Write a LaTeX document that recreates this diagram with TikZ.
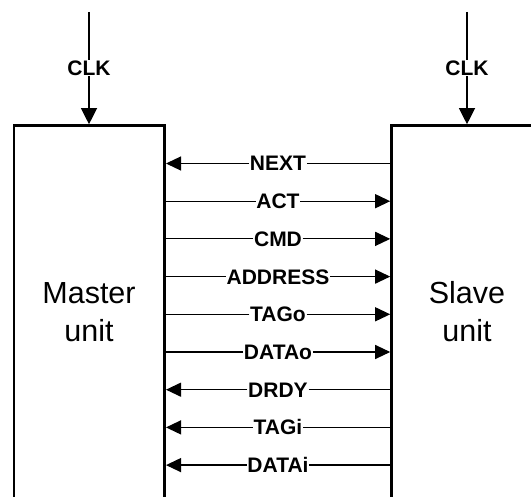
\documentclass[tikz,border=0pt]{standalone}
\usepackage{fontspec}
\setmainfont{Liberation Sans}
\usetikzlibrary{arrows.meta}
\begin{document}
\begin{tikzpicture}[x=1pt,y=-1pt,
  box/.style={line width=2.7pt},
  sig/.style={line width=1.2pt},
  tip/.style={-{Triangle[length=15pt,width=14pt]}},
  clktip/.style={-{Triangle[length=16pt,width=16pt]}},
  plain/.style={},
  lab/.style={font=\fontsize{21}{22}\selectfont\bfseries, inner sep=0.6pt, text height=15pt, text depth=0pt},
  unit/.style={font=\fontsize{30.5}{38}\selectfont, align=center}]
\useasboundingbox (0,0) rectangle (531,497);
\clip (0,0) rectangle (531,497);
% unit boxes (open at the bottom)
\coordinate (mBL) at (14,510);
\coordinate (mTL) at (14,125.5);
\coordinate (mTR) at (164.7,125.5);
\coordinate (mBR) at (164.7,510);
\coordinate (sBL) at (391.5,510);
\coordinate (sTL) at (391.5,125.5);
\coordinate (sTR) at (545,125.5);
\draw[box] (mBL) -- (mTL) -- (mTR) -- (mBR);
\draw[box] (sBL) -- (sTL) -- (sTR);
\node[unit] (mtext) at (89,312) {Master\\unit};
\node[unit] (stext) at (467,312) {Slave\\unit};
% edges reached by the signal arrows
\coordinate (mE) at (166,0);
\coordinate (sW) at (390.2,0);
% clocks
\node[lab] (clkL) at (89,68) {CLK};
\node[lab] (clkR) at (467,68) {CLK};
\coordinate (clkLtop) at (89,12);
\coordinate (clkLin) at (89,124.2);
\coordinate (clkRtop) at (467,12);
\coordinate (clkRin) at (467,124.2);
\draw[sig] (clkLtop) -- (clkL);
\draw[sig,clktip] (clkL) -- (clkLin);
\draw[sig] (clkRtop) -- (clkR);
\draw[sig,clktip] (clkR) -- (clkRin);
% signals
\foreach \t/\a/\b [count=\i from 0] in {NEXT/tip/plain, ACT/plain/tip, CMD/plain/tip, ADDRESS/plain/tip, TAGo/plain/tip, DATAo/plain/tip, DRDY/tip/plain, TAGi/tip/plain, DATAi/tip/plain}{
  \node[lab] (r\i) at (278,163.5+37.7*\i) {\t};
  \draw[sig,\a] (r\i) -- (mE |- r\i);
  \draw[sig,\b] (r\i) -- (sW |- r\i);
}
\end{tikzpicture}
\end{document}
